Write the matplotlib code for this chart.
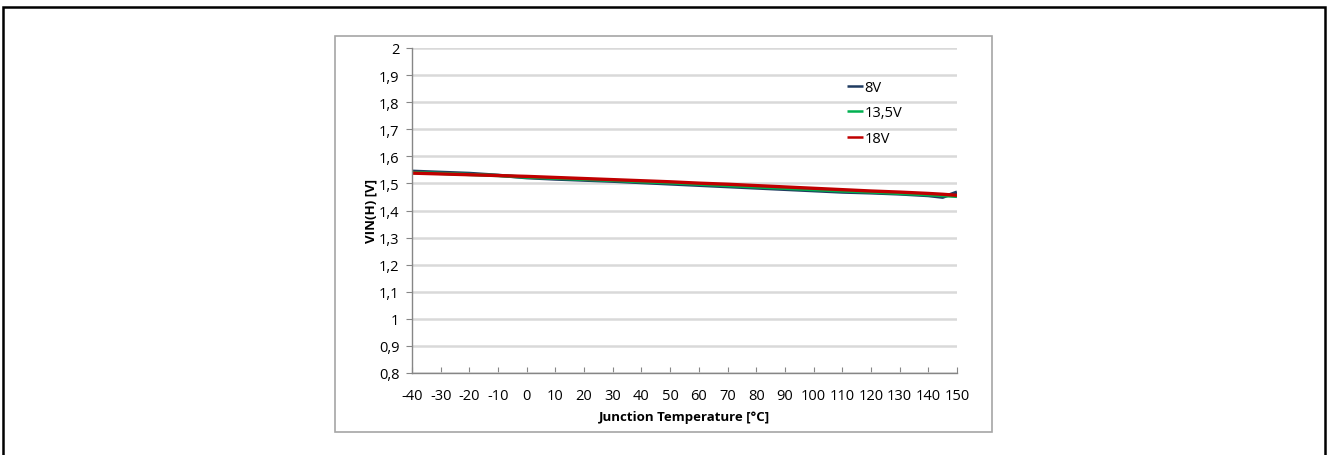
import matplotlib
matplotlib.use("Agg")
import matplotlib.pyplot as plt
from matplotlib.patches import Rectangle

# ---- data ----
temps = [-40, -30, -20, -10, 0, 10, 20, 30, 40, 50, 60, 70, 80, 90, 100, 110, 120, 130, 140, 145, 150]
v_8 = [1.545, 1.541, 1.537, 1.530, 1.521, 1.516, 1.512, 1.508, 1.503, 1.498, 1.493, 1.488, 1.483,
       1.478, 1.473, 1.468, 1.465, 1.461, 1.455, 1.449, 1.468]
v_135 = [1.540, 1.537, 1.533, 1.529, 1.523, 1.519, 1.515, 1.511, 1.506, 1.502, 1.497, 1.492, 1.487,
         1.482, 1.477, 1.472, 1.468, 1.463, 1.458, 1.455, 1.452]
v_18 = [1.538, 1.535, 1.532, 1.529, 1.526, 1.522, 1.518, 1.514, 1.510, 1.506, 1.501, 1.497, 1.492,
        1.487, 1.482, 1.477, 1.472, 1.468, 1.463, 1.460, 1.456]
series_labels = ["8V", "13,5V", "18V"]
series_colors = ["#1F3B60", "#00B050", "#C00000"]
xticks = list(range(-40, 151, 10))
yticks = [0.8, 0.9, 1.0, 1.1, 1.2, 1.3, 1.4, 1.5, 1.6, 1.7, 1.8, 1.9, 2.0]
ytick_labels = ["0,8", "0,9", "1", "1,1", "1,2", "1,3", "1,4", "1,5", "1,6", "1,7", "1,8", "1,9", "2"]
xlabel = "Junction Temperature [°C]"
ylabel = "VIN(H) [V]"

plt.rcParams['font.family'] = ['Open Sans', 'DejaVu Sans']

W, H = 1327, 456
fig = plt.figure(figsize=(W / 100, H / 100), dpi=100)

def fx(px):
    return px / W

def fy(py):
    return 1 - py / H

# outer black border (no bottom edge visible)
fig.add_artist(Rectangle((fx(3), fy(470)), fx(1325) - fx(3), fy(8) - fy(470),
                         transform=fig.transFigure, fill=False, edgecolor="black", linewidth=1.8))
# inner gray chart box
fig.add_artist(Rectangle((fx(335), fy(433)), fx(992) - fx(335), fy(37) - fy(433),
                         transform=fig.transFigure, fill=False, edgecolor="#A6A6A6", linewidth=1.2))

ax = fig.add_axes([fx(412), fy(374), fx(957) - fx(412), fy(49) - fy(374)])
ax.set_xlim(-40, 150)
ax.set_ylim(0.8, 2.0)

for vals, lab, col in zip([v_8, v_135, v_18], series_labels, series_colors):
    ax.plot(temps, vals, color=col, linewidth=2.4, label=lab, solid_capstyle='butt')

ax.set_yticks(yticks)
ax.set_yticklabels(ytick_labels)
ax.set_xticks(xticks)
ax.set_xticklabels([str(t) for t in xticks])
ax.grid(axis='y', color="#D9D9D9", linewidth=1.8)
ax.set_axisbelow(True)
for s in ['top', 'right']:
    ax.spines[s].set_visible(False)
for s in ['left', 'bottom']:
    ax.spines[s].set_color("#868686")
    ax.spines[s].set_linewidth(1.0)
ax.tick_params(axis='x', direction='in', length=4, color="#868686", labelsize=10.5, pad=11)
ax.tick_params(axis='y', direction='out', length=4, color="#868686", labelsize=10.5, pad=5)

ax.set_xlabel(xlabel, fontsize=9.5, fontweight='bold', labelpad=5)
ax.set_ylabel(ylabel, fontsize=9.5, fontweight='bold', labelpad=1)

leg = ax.legend(loc='upper left', bbox_to_anchor=(fx(847), fy(81)), bbox_transform=fig.transFigure,
                frameon=False, fontsize=10.5, handlelength=1.1, handletextpad=0.1,
                labelspacing=0.72, borderaxespad=0, borderpad=0)
for line in leg.get_lines():
    line.set_linewidth(1.8)

fig.savefig("out.png", dpi=100)
